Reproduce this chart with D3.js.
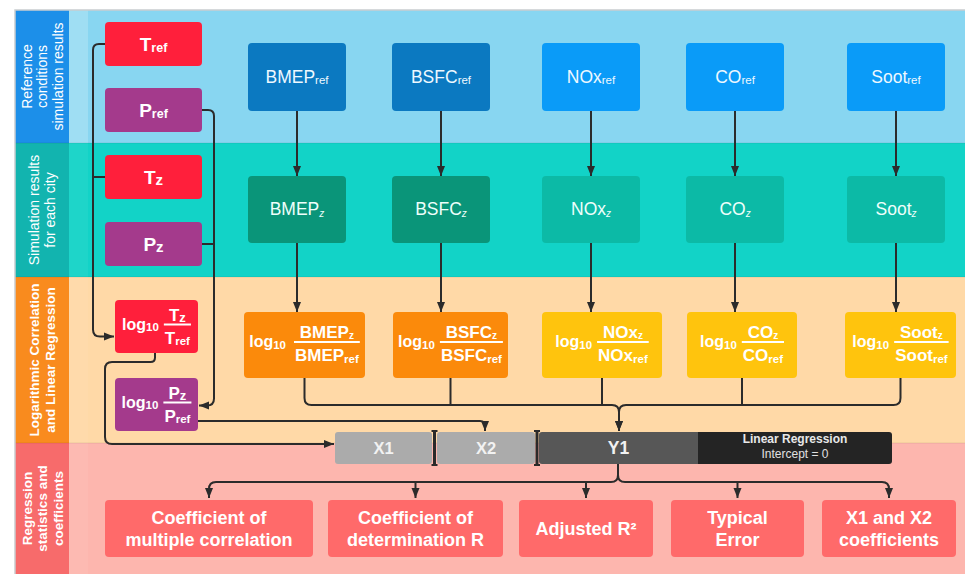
<!DOCTYPE html>
<html><head><meta charset="utf-8">
<script src="https://cdn.jsdelivr.net/npm/d3@7"></script>
<style>
body{margin:0;background:#fff}
svg{display:block}
text{font-family:"Liberation Sans",Arial,sans-serif}
</style>
</head><body>
<svg id="chart" width="965" height="574"></svg>
<script>
// ---------------- DATA ----------------
const stageLabels = [
  ["Reference", "conditions", "simulation results"],
  ["Simulation results", "for each city"],
  ["Logarithmic Correlation", "and Linear Regression"],
  ["Regression", "statistics and", "coefficients"]
];
const engineVars = ["BMEP", "BSFC", "NOx", "CO", "Soot"];
const ambientVars = ["T", "P"];
const refSub = "ref";
const citySub = "z";
const logPrefix = "log";
const logBase = "10";
const regressionCols = ["X1", "X2", "Y1"];
const regressionTitle = ["Linear Regression", "Intercept = 0"];
const outputs = [
  ["Coefficient of", "multiple correlation"],
  ["Coefficient of", "determination R"],
  ["Adjusted R²"],
  ["Typical", "Error"],
  ["X1 and X2", "coefficients"]
];

// ---------------- LAYOUT / STYLE ----------------
const W = 965, H = 574;
const svg = d3.select("#chart");
const stageIdx = d3.range(stageLabels.length);
const bandEdges = [10, 143, 277, 443, 574];
const bandY = d3.scaleOrdinal(stageIdx, bandEdges.slice(0, 4));
const bandH = i => bandEdges[i + 1] - bandEdges[i];
const bandFill = d3.scaleOrdinal(stageIdx, ["#88D6F1", "#12D3C7", "#FFD9A7", "#FDB6AE"]);
const labelFill = d3.scaleOrdinal(stageIdx, ["#1C8FE9", "#12B4AF", "#F98B1E", "#F76B6B"]);
const labelWeight = d3.scaleOrdinal(stageIdx, ["normal", "normal", "bold", "bold"]);
const labelSize = d3.scaleOrdinal(stageIdx, [14, 14, 13.5, 13.5]);
const stripAlpha = d3.scaleOrdinal(stageIdx, [0.2, 0.05, 0.05, 0.06]);

const LINE = "#2B2B2B";
const defs = svg.append("defs");
defs.append("marker").attr("id", "arr")
  .attr("viewBox", "0 0 10 10").attr("refX", 10).attr("refY", 5)
  .attr("markerUnits", "userSpaceOnUse").attr("markerWidth", 10).attr("markerHeight", 10)
  .attr("orient", "auto")
  .append("path").attr("d", "M0,1L10,5L0,9Z").attr("fill", LINE);

// bands
const bands = svg.append("g");
bands.selectAll("rect.band").data(stageIdx).join("rect").attr("class", "band")
  .attr("x", 69).attr("y", d => bandY(d)).attr("width", W - 69).attr("height", d => bandH(d))
  .attr("fill", d => bandFill(d));
bands.selectAll("rect.strip").data(stageIdx).join("rect").attr("class", "strip")
  .attr("x", 69).attr("y", d => bandY(d)).attr("width", 19).attr("height", d => bandH(d))
  .attr("fill", "#fff").attr("opacity", d => stripAlpha(d));
bands.selectAll("rect.lab").data(stageIdx).join("rect").attr("class", "lab")
  .attr("x", 15).attr("y", d => bandY(d)).attr("width", 54).attr("height", d => bandH(d))
  .attr("fill", d => labelFill(d));
bands.selectAll("line.sep").data(stageIdx.slice(1)).join("line").attr("class", "sep")
  .attr("x1", 15).attr("x2", W).attr("y1", d => bandY(d)).attr("y2", d => bandY(d))
  .attr("stroke", "rgba(0,0,0,0.08)").attr("stroke-width", 1);
svg.append("path").attr("d", `M15,${H}L15,10L${W},10`).attr("fill", "none")
  .attr("stroke", "#C9CDD0").attr("stroke-width", 1.5);

// stage labels (rotated)
stageIdx.forEach(i => {
  const cy = bandY(i) + bandH(i) / 2, cx = 42;
  const lines = stageLabels[i];
  const sp = 15.5;
  const t = svg.append("text")
    .attr("transform", `translate(${cx},${cy}) rotate(-90)`)
    .attr("text-anchor", "middle").attr("fill", "#fff")
    .attr("font-size", labelSize(i)).attr("font-weight", labelWeight(i));
  lines.forEach((l, k) => {
    t.append("tspan").attr("x", 0)
      .attr("y", (k - (lines.length - 1) / 2) * sp + 5)
      .text(l);
  });
});

// rich text helper: base + subscript
function rich(g, x, y, base, sub, o) {
  const t = g.append("text").attr("x", x).attr("y", y)
    .attr("text-anchor", o.anchor || "middle").attr("fill", o.fill || "#fff")
    .attr("font-weight", o.weight || "normal").attr("font-size", o.size);
  t.append("tspan").text(base);
  if (sub) t.append("tspan").attr("font-size", o.subSize).attr("dy", o.subDy)
    .attr("font-style", o.subItalic ? "italic" : null)
    .attr("font-weight", o.subWeight || o.weight || "normal").text(sub);
  return t;
}

function box(x, y, w, h, fill, r = 4) {
  return svg.append("rect").attr("x", x).attr("y", y).attr("width", w).attr("height", h)
    .attr("rx", r).attr("fill", fill);
}

// log fraction box content
function logFraction(cx, cy, base, opt) {
  const g = svg.append("g");
  const barY = cy - 3;
  const lt = g.append("text").attr("y", barY + 5).attr("fill", "#fff")
    .attr("font-weight", "bold").attr("font-size", 16);
  lt.append("tspan").text(logPrefix);
  lt.append("tspan").attr("font-size", 11.5).attr("dy", 1.5).text(logBase);
  const num = rich(g, 0, barY - 4, base, citySub, {weight: "bold", size: opt.size, subSize: opt.zSize, subDy: 1, anchor: "middle"});
  const den = rich(g, 0, barY + 19, base, refSub, {weight: "bold", size: opt.size, subSize: 11.5, subDy: 1.5, anchor: "middle"});
  const lw = lt.node().getComputedTextLength();
  const fw = Math.max(num.node().getComputedTextLength(), den.node().getComputedTextLength()) + 2;
  const gap = opt.gap;
  const x0 = cx - (lw + gap + fw) / 2;
  lt.attr("x", x0);
  const fc = x0 + lw + gap + fw / 2;
  num.attr("x", fc); den.attr("x", fc);
  g.append("rect").attr("x", fc - fw / 2).attr("y", barY - 1).attr("width", fw).attr("height", 2).attr("fill", "#fff");
}

// ---------------- ENGINE COLUMNS ----------------
const colX = d3.scaleOrdinal(engineVars, [297, 441, 591, 735, 896]);
const darkCols = new Set(["BMEP", "BSFC"]);
const refFill = v => darkCols.has(v) ? "#0B79C1" : "#0A9BF8";
const cityFill = v => darkCols.has(v) ? "#0A9579" : "#0CBAA6";
const logFill = v => darkCols.has(v) ? "#FB8A0B" : "#FFC40D";
const boxW = 98;
const rowRef = [43, 111], rowCity = [176, 243], rowLog = [312, 378];
const logLeft = d3.scaleOrdinal(engineVars, [244, 393, 542, 687, 845]);
const logW = d3.scaleOrdinal(engineVars, [121, 115, 120, 110, 111]);
const logCx = v => logLeft(v) + logW(v) / 2;

engineVars.forEach(v => {
  const cx = colX(v);
  box(cx - boxW / 2, rowRef[0], boxW, rowRef[1] - rowRef[0], refFill(v));
  rich(svg, cx, (rowRef[0] + rowRef[1]) / 2 + 5.5, v, refSub, {size: 17.5, subSize: 11.5, subDy: 1.5, fill: "#EEF8FF"});
  box(cx - boxW / 2, rowCity[0], boxW, rowCity[1] - rowCity[0], cityFill(v));
  rich(svg, cx, (rowCity[0] + rowCity[1]) / 2 + 5.5, v, citySub, {size: 17.5, subSize: 10, subDy: 1.5, subItalic: true, fill: "#EEFFFB"});
  box(logLeft(v), rowLog[0], logW(v), rowLog[1] - rowLog[0], logFill(v));
  logFraction(logCx(v), (rowLog[0] + rowLog[1]) / 2, v, {size: 17, zSize: 10, gap: v === "BMEP" ? 8 : 5});
});

// ---------------- AMBIENT (T, P) ----------------
const ambFill = d3.scaleOrdinal(ambientVars, ["#FF1F3B", "#A43A8C"]);
const ambRefY = d3.scaleOrdinal(ambientVars, [22, 88]);
const ambCityY = d3.scaleOrdinal(ambientVars, [155, 222]);
const ambLogY = d3.scaleOrdinal(ambientVars, [300, 378]);
const ambX = 105, ambW = 97, ambH = 44;
const ambLogX = 115, ambLogW = 83, ambLogH = 53;
ambientVars.forEach(v => {
  box(ambX, ambRefY(v), ambW, ambH, ambFill(v));
  rich(svg, ambX + ambW / 2, ambRefY(v) + ambH / 2 + 6.5, v, refSub, {weight: "bold", size: 19, subSize: 12.5, subDy: 1.5});
  box(ambX, ambCityY(v), ambW, ambH, ambFill(v));
  rich(svg, ambX + ambW / 2, ambCityY(v) + ambH / 2 + 6.5, v, citySub.toUpperCase() === "Z" ? "z" : citySub, {weight: "bold", size: 19, subSize: 15, subDy: 1});
  box(ambLogX, ambLogY(v), ambLogW, ambLogH, ambFill(v));
  logFraction(ambLogX + ambLogW / 2, ambLogY(v) + ambLogH / 2 + 1, v, {size: 17, zSize: 13, gap: 5});
});

// ---------------- CONNECTORS ----------------
function rounded(pts, r = 7) {
  const p = d3.path();
  p.moveTo(pts[0][0], pts[0][1]);
  for (let i = 1; i < pts.length - 1; i++) {
    const [x0, y0] = pts[i - 1], [x1, y1] = pts[i], [x2, y2] = pts[i + 1];
    const d1 = Math.hypot(x1 - x0, y1 - y0), d2 = Math.hypot(x2 - x1, y2 - y1);
    const rr = Math.min(r, d1 / 2, d2 / 2);
    p.lineTo(x1 + (x0 - x1) / d1 * rr, y1 + (y0 - y1) / d1 * rr);
    p.quadraticCurveTo(x1, y1, x1 + (x2 - x1) / d2 * rr, y1 + (y2 - y1) / d2 * rr);
  }
  const l = pts[pts.length - 1];
  p.lineTo(l[0], l[1]);
  return p.toString();
}
const conn = svg.append("g").attr("fill", "none").attr("stroke", LINE).attr("stroke-width", 2);
function link(pts, arrow = true) {
  conn.append("path").attr("d", rounded(pts)).attr("marker-end", arrow ? "url(#arr)" : null);
}
// T chain
const tRefCy = ambRefY("T") + ambH / 2, tCityCy = ambCityY("T") + ambH / 2;
const tLogCy = ambLogY("T") + ambLogH / 2 + 10;
link([[ambX, tRefCy], [93, tRefCy], [93, tLogCy], [ambLogX - 1, tLogCy]]);
link([[ambX, tCityCy], [93, tCityCy]], false);
// P chain
const pRefCy = ambRefY("P") + ambH / 2, pCityCy = ambCityY("P") + ambH / 2;
const pLogCy = ambLogY("P") + ambLogH / 2 + 1;
link([[ambX + ambW, pRefCy], [214, pRefCy], [214, pLogCy], [ambLogX + ambLogW + 1, pLogCy]]);
link([[ambX + ambW, pCityCy], [214, pCityCy]], false);

// regression bar geometry
const barY0 = 432, barH = 32;
const segX = d3.scaleOrdinal(regressionCols, [335, 437, 539]);
const segW = d3.scaleOrdinal(regressionCols, [97, 98, 159]);
const lrX = 698, lrW = 194;
const segCx = c => segX(c) + segW(c) / 2;

// log T -> X1
const tLogBottom = ambLogY("T") + ambLogH;
link([[ambLogX + 40, tLogBottom], [ambLogX + 40, tLogBottom + 9], [105, tLogBottom + 9], [105, 444], [segX("X1") - 1, 444]]);
// log P -> X2
link([[ambLogX + ambLogW, 421], [485, 421], [485, barY0 - 1]]);

// engine vertical arrows
engineVars.forEach(v => {
  link([[colX(v), rowRef[1]], [colX(v), rowCity[0]]]);
  link([[colX(v), rowCity[1]], [colX(v), rowLog[0]]]);
});
// merge to Y1
const mergeY = 405, y1x = 619;
const first = engineVars[0], last = engineVars[engineVars.length - 1];
link([[logCx(first), rowLog[1]], [logCx(first), mergeY], [y1x, mergeY], [y1x, barY0 - 1]]);
link([[logCx(last), rowLog[1]], [logCx(last), mergeY], [y1x, mergeY], [y1x, barY0 - 1]]);
engineVars.slice(1, -1).forEach(v => link([[logCx(v), rowLog[1]], [logCx(v), mergeY]], false));

// ---------------- REGRESSION BAR ----------------
const segFill = d3.scaleOrdinal(regressionCols, ["#ABABAB", "#ABABAB", "#575757"]);
regressionCols.forEach(c => {
  box(segX(c), barY0, segW(c) + (c === "Y1" ? 4 : 0), barH, segFill(c), 3);
  svg.append("text").attr("x", segCx(c)).attr("y", barY0 + barH / 2 + 6)
    .attr("text-anchor", "middle").attr("fill", "#F2F2F2").attr("font-weight", "bold")
    .attr("font-size", c === "Y1" ? 17.5 : 16.5).text(c);
});
box(lrX, barY0, lrW, barH, "#242424", 3);
svg.append("rect").attr("x", lrX).attr("y", barY0).attr("width", 6).attr("height", barH).attr("fill", "#242424");
svg.append("text").attr("x", lrX + lrW / 2).attr("y", barY0 + 11).attr("text-anchor", "middle")
  .attr("fill", "#E8E8E8").attr("font-weight", "bold").attr("font-size", 12).text(regressionTitle[0]);
svg.append("text").attr("x", lrX + lrW / 2).attr("y", barY0 + 26).attr("text-anchor", "middle")
  .attr("fill", "#E0E0E0").attr("font-size", 12).text(regressionTitle[1]);
// I-beam separators
[segX("X2") - 2.5, segX("Y1") - 2].forEach(x => {
  svg.append("path").attr("d", `M${x - 3},${barY0 - 1}H${x + 3}M${x},${barY0 - 1}V${barY0 + barH + 1}M${x - 3},${barY0 + barH + 1}H${x + 3}`)
    .attr("stroke", "#2A2A2A").attr("stroke-width", 2).attr("fill", "none");
  svg.append("rect").attr("x", x - 1.5).attr("y", barY0).attr("width", 3).attr("height", barH).attr("fill", "#2A2A2A");
});

// ---------------- OUTPUTS ----------------
const outLeft = [105, 328, 519, 671, 822];
const outRight = [313, 503, 653, 804, 956];
const outIdx = d3.range(outputs.length);
const outX0 = d3.scaleOrdinal(outIdx, outLeft);
const outX1 = d3.scaleOrdinal(outIdx, outRight);
const outCx = i => (outX0(i) + outX1(i)) / 2;
const outY = 500, outH = 57;
const splitY = 482, y1Bottom = barY0 + barH;
link([[y1x - 1, y1Bottom], [y1x - 1, splitY], [outCx(0), splitY], [outCx(0), outY - 2]]);
link([[y1x - 1, y1Bottom], [y1x - 1, splitY], [outCx(outputs.length - 1), splitY], [outCx(outputs.length - 1), outY - 2]]);
outIdx.slice(1, -1).forEach(i => link([[outCx(i), splitY], [outCx(i), outY - 2]]));

outIdx.forEach(i => {
  box(outX0(i), outY, outX1(i) - outX0(i), outH, "#FF6A6A", 4);
  const lines = outputs[i];
  const t = svg.append("text").attr("text-anchor", "middle").attr("fill", "#fff")
    .attr("font-weight", "bold").attr("font-size", 18);
  lines.forEach((l, k) => {
    t.append("tspan").attr("x", outCx(i))
      .attr("y", outY + outH / 2 + 6.5 + (k - (lines.length - 1) / 2) * 22)
      .text(l);
  });
});
</script>
</body></html>
